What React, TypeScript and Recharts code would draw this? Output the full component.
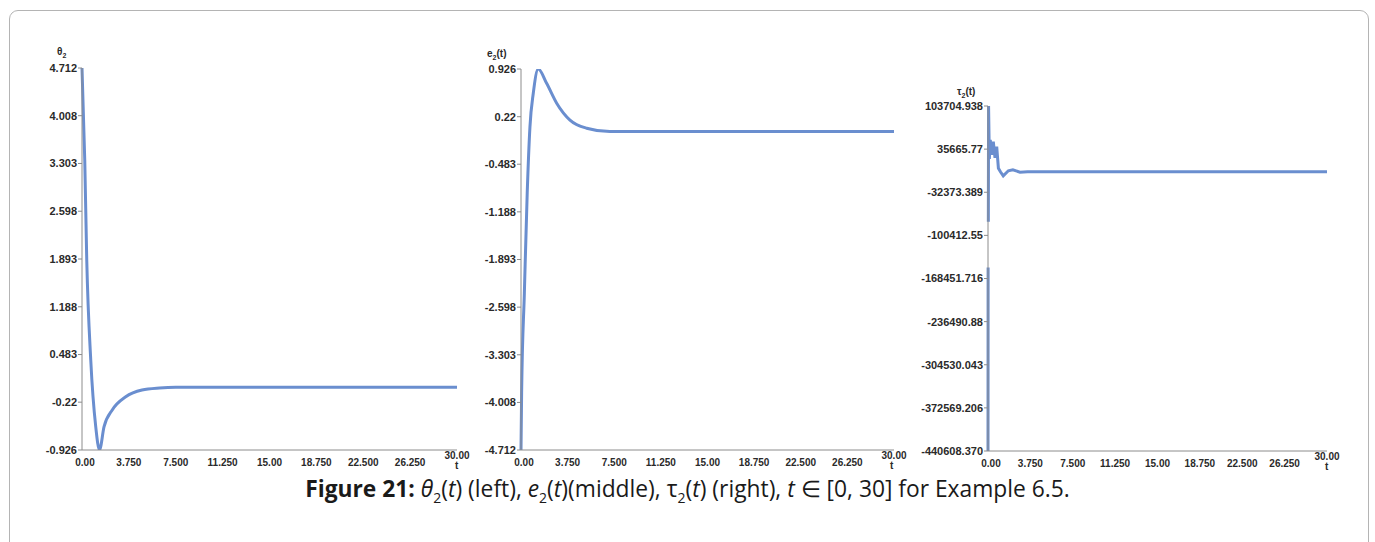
import React from "react";
import { LineChart, Line, XAxis, YAxis } from "recharts";

// time axis shared by all three panels
const T_TICKS = [0, 3.75, 7.5, 11.25, 15, 18.75, 22.5, 26.25, 30];
const T_LABELS = ["0.00", "3.750", "7.500", "11.250", "15.00", "18.750", "22.500", "26.250", "30.00"];

// theta_2(t)
const THETA_T = [0, 0.22, 0.38, 0.7, 1.1, 1.4, 1.76, 2.42, 3.5, 4.8, 6.2, 7.5, 30];
const THETA_V = [4.712, 3.354, 1.878, 0.403, -0.586, -0.926, -0.586, -0.335, -0.14, -0.04, -0.01, 0, 0];
const THETA_TICKS = [-0.926, -0.22, 0.483, 1.188, 1.893, 2.598, 3.303, 4.008, 4.712];
const THETA_TICK_LABELS = ["-0.926", "-0.22", "0.483", "1.188", "1.893", "2.598", "3.303", "4.008", "4.712"];

// e_2(t)
const E_T = [0, 0.05, 0.27, 0.5, 0.72, 0.99, 1.39, 2.06, 2.87, 3.94, 5.28, 7.15, 30];
const E_V = [-4.712, -3.87, -2.39, -0.91, 0.07, 0.57, 0.926, 0.714, 0.42, 0.17, 0.05, 0, 0];
const E_TICKS = [-4.712, -4.008, -3.303, -2.598, -1.893, -1.188, -0.483, 0.22, 0.926];
const E_TICK_LABELS = ["-4.712", "-4.008", "-3.303", "-2.598", "-1.893", "-1.188", "-0.483", "0.22", "0.926"];

// tau_2(t)
const TAU_T = [0, 0.01, 0.02, 0.03, 0.05, 0.12, 0.2, 0.33, 0.47, 0.62, 0.77, 0.92, 1.1, 1.35, 1.8, 2.2, 2.83, 3.5, 30];
const TAU_V = [-440608, -151000, null, -79000, 103705, 20000, 50170, 26550, 47500, 21830, 39620, 5610, 0, -6500, 1500, 2930, -660, 0, 0];
const TAU_TICKS = [-440608.37, -372569.206, -304530.043, -236490.88, -168451.716, -100412.55, -32373.389, 35665.77, 103704.938];
const TAU_TICK_LABELS = ["-440608.370", "-372569.206", "-304530.043", "-236490.88", "-168451.716", "-100412.55", "-32373.389", "35665.77", "103704.938"];

const LINE_COLOR = "#6a8ecf";
const AXIS_COLOR = "#8c8c8c";
const FONT = "'Liberation Sans', Arial, sans-serif";

function toRows(ts: number[], vs: (number | null)[]) {
  return ts.map((t, i) => ({ t, v: vs[i] }));
}

// x tick: last label sits a bit higher, with the "t" under it
function TimeTick(props: any) {
  const { x, y, index } = props;
  const last = index === T_LABELS.length - 1;
  return (
    <text
      x={index === 0 ? x + 3 : x}
      y={y + (last ? -7 : 0)}
      dy="0.71em"
      textAnchor="middle"
      fontSize={10}
      fontWeight={700}
      fill="#2a2a2a"
      fontFamily={FONT}
    >
      {T_LABELS[index]}
    </text>
  );
}

interface PanelProps {
  left: number;
  width: number;
  height: number;
  margin: { top: number; right: number; bottom: number; left: number };
  yWidth: number;
  data: { t: number; v: number | null }[];
  yTicks: number[];
  yLabels: string[];
  smooth: boolean;
}

function Panel({ left, width, height, margin, yWidth, data, yTicks, yLabels, smooth }: PanelProps) {
  return (
    <div style={{ position: "absolute", left, top: 0 }}>
      <LineChart width={width} height={height} data={data} margin={margin}>
        <XAxis
          dataKey="t"
          type="number"
          domain={[0, 30]}
          ticks={T_TICKS}
          interval={0}
          height={30}
          tickLine={false}
          tickMargin={3}
          stroke={AXIS_COLOR}
          tick={<TimeTick />}
        />
        <YAxis
          type="number"
          domain={[yTicks[0], yTicks[yTicks.length - 1]]}
          allowDataOverflow
          ticks={yTicks}
          interval={0}
          width={yWidth}
          tickSize={4}
          tickMargin={1}
          stroke={AXIS_COLOR}
          tick={{ fontSize: 11, fontWeight: 700, fill: "#2a2a2a", fontFamily: FONT }}
          tickFormatter={(_v: number, i: number) => yLabels[i]}
        />
        <Line
          dataKey="v"
          type={smooth ? "monotone" : "linear"}
          stroke={LINE_COLOR}
          strokeWidth={3}
          dot={false}
          connectNulls={false}
          isAnimationActive={false}
        />
      </LineChart>
    </div>
  );
}

const label: React.CSSProperties = {
  position: "absolute",
  fontFamily: FONT,
  fontWeight: 700,
  fontSize: 10,
  color: "#2a2a2a",
  lineHeight: 1,
  whiteSpace: "nowrap",
};

const capSub: React.CSSProperties = { fontSize: 14, lineHeight: 0 };

export default function App() {
  return (
    <div style={{ position: "absolute", left: 0, top: 0, width: 1375, height: 542, background: "#fff", overflow: "hidden" }}>
      <div
        style={{
          position: "absolute",
          left: 9,
          top: 10,
          width: 1358,
          height: 560,
          border: "1px solid #b4b4b4",
          borderRadius: 9,
        }}
      />
      <Panel
        left={0}
        width={470}
        height={480}
        margin={{ top: 68, right: 13, bottom: 0, left: 12 }}
        yWidth={70}
        data={toRows(THETA_T, THETA_V)}
        yTicks={THETA_TICKS}
        yLabels={THETA_TICK_LABELS}
        smooth
      />
      <Panel
        left={440}
        width={470}
        height={480}
        margin={{ top: 69, right: 16, bottom: 0, left: 11 }}
        yWidth={70}
        data={toRows(E_T, E_V)}
        yTicks={E_TICKS}
        yLabels={E_TICK_LABELS}
        smooth
      />
      <Panel
        left={900}
        width={440}
        height={481}
        margin={{ top: 106, right: 13, bottom: 0, left: 8 }}
        yWidth={80}
        data={toRows(TAU_T, TAU_V)}
        yTicks={TAU_TICKS}
        yLabels={TAU_TICK_LABELS}
        smooth={false}
      />

      <div style={{ ...label, left: 57, top: 47 }}>
        θ<sub style={{ fontSize: 7 }}>2</sub>
      </div>
      <div style={{ ...label, left: 487, top: 49 }}>
        e<sub style={{ fontSize: 7 }}>2</sub>(t)
      </div>
      <div style={{ ...label, left: 957, top: 87 }}>
        τ<sub style={{ fontSize: 7 }}>2</sub>(t)
      </div>
      <div style={{ ...label, left: 455, top: 461 }}>t</div>
      <div style={{ ...label, left: 890, top: 461 }}>t</div>
      <div style={{ ...label, left: 1325, top: 462 }}>t</div>

      <div
        style={{
          position: "absolute",
          left: 0,
          width: 1375,
          top: 478,
          textAlign: "center",
          fontFamily: "'Open Sans', sans-serif",
          fontSize: 22.8,
          lineHeight: 1,
          color: "#1a1a1a",
          whiteSpace: "nowrap",
        }}
      >
        <b>Figure 21:</b> <i>θ</i>
        <sub style={capSub}>2</sub>(<i>t</i>) (left), <i>e</i>
        <sub style={capSub}>2</sub>(<i>t</i>)(middle), τ<sub style={capSub}>2</sub>(<i>t</i>) (right), <i>t</i> ∈ [0, 30] for
        Example 6.5.
      </div>
    </div>
  );
}
